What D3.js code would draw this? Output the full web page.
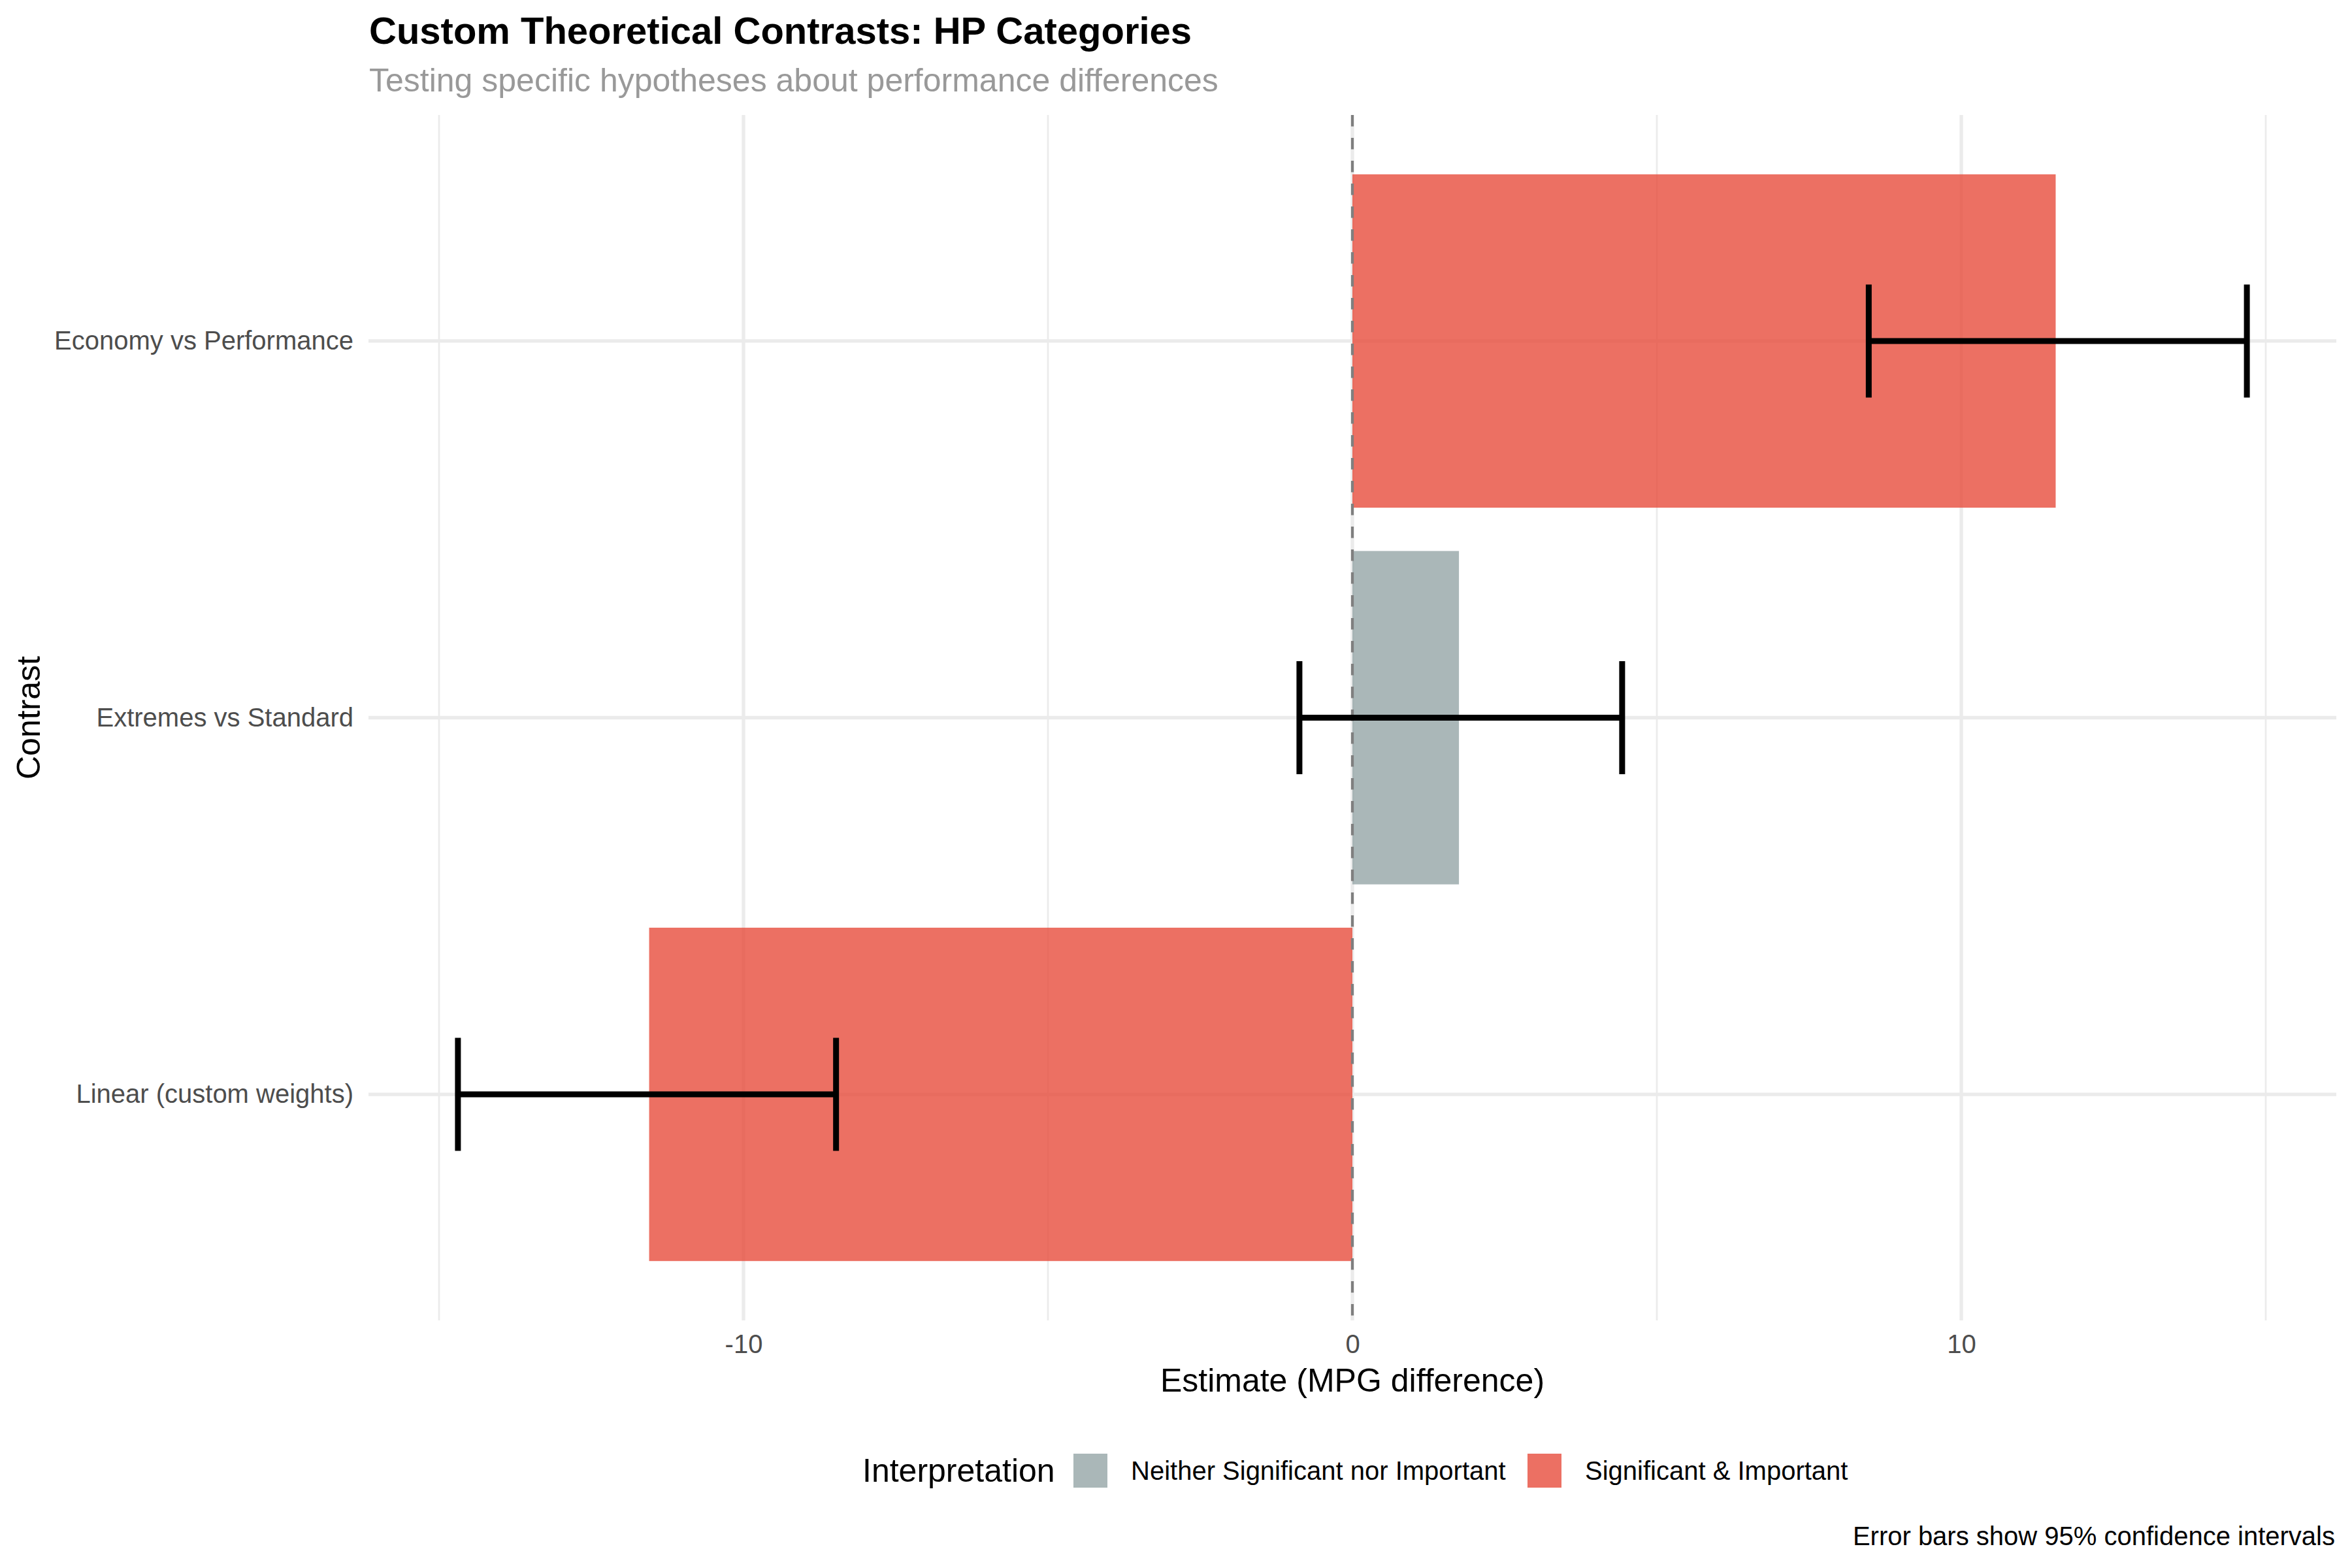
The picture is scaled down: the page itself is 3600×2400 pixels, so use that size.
<!DOCTYPE html>
<html>
<head>
<meta charset="utf-8">
<script src="https://cdn.jsdelivr.net/npm/d3@7"></script>
<style>
  body { margin: 0; background: #fff; }
  text { font-family: "Liberation Sans", Arial, Helvetica, sans-serif; }
</style>
</head>
<body>
<svg id="chart" width="3600" height="2400"></svg>
<script>
// data
var contrasts = ["Economy vs Performance", "Extremes vs Standard", "Linear (custom weights)"]
var estimates = [11.55, 1.75, -11.55]
var lowerCI = [8.48, -0.87, -14.69]
var upperCI = [14.69, 4.43, -8.48]
var interpretation = ["Significant & Important", "Neither Significant nor Important", "Significant & Important"]
var legendLabels = ["Neither Significant nor Important", "Significant & Important"]
var legendColors = ["#95A5A6", "#E74C3C"]
var majorTicks = [-10, 0, 10]
var minorTicks = [-15, -5, 5, 15]

var svg = d3.select("#chart")
svg.append("rect").attr("width", 3600).attr("height", 2400).attr("fill", "#fff")

// panel
var pLeft = 564, pRight = 3576, pTop = 176, pBottom = 2021

var lo = d3.min(lowerCI.concat([0])), hi = d3.max(upperCI.concat([0]))
var pad = (hi - lo) * 0.05
var x = d3.scaleLinear().domain([lo - pad, hi + pad]).range([pLeft, pRight])
var y = d3.scalePoint().domain(contrasts).range([pTop, pBottom]).padding(0.6)
var step = y.step()
var color = d3.scaleOrdinal().domain(legendLabels).range(legendColors)

// grid
svg.selectAll(".minor").data(minorTicks).enter().append("line")
  .attr("x1", d => x(d)).attr("x2", d => x(d)).attr("y1", pTop).attr("y2", pBottom)
  .attr("stroke", "#EBEBEB").attr("stroke-width", 2.7)
svg.selectAll(".majorx").data(majorTicks).enter().append("line")
  .attr("x1", d => x(d)).attr("x2", d => x(d)).attr("y1", pTop).attr("y2", pBottom)
  .attr("stroke", "#EBEBEB").attr("stroke-width", 5.3)
svg.selectAll(".majory").data(contrasts).enter().append("line")
  .attr("x1", pLeft).attr("x2", pRight).attr("y1", d => y(d)).attr("y2", d => y(d))
  .attr("stroke", "#EBEBEB").attr("stroke-width", 5.3)

// bars
var barH = step * 0.885
svg.selectAll(".bar").data(contrasts).enter().append("rect")
  .attr("x", (d, i) => x(Math.min(0, estimates[i])))
  .attr("width", (d, i) => Math.abs(x(estimates[i]) - x(0)))
  .attr("y", d => y(d) - barH / 2)
  .attr("height", barH)
  .attr("fill", (d, i) => color(interpretation[i]))
  .attr("fill-opacity", 0.8)

// zero reference line
svg.append("line")
  .attr("x1", x(0)).attr("x2", x(0)).attr("y1", pTop).attr("y2", pBottom)
  .attr("stroke", "#7F7F7F").attr("stroke-width", 4.2).attr("stroke-dasharray", "17.5,17.5")

// error bars
var capH = step * 0.3
var eb = svg.selectAll(".eb").data(contrasts).enter().append("g")
eb.append("line")
  .attr("x1", (d, i) => x(lowerCI[i])).attr("x2", (d, i) => x(upperCI[i]))
  .attr("y1", d => y(d)).attr("y2", d => y(d))
  .attr("stroke", "#000").attr("stroke-width", 9)
eb.append("line")
  .attr("x1", (d, i) => x(lowerCI[i])).attr("x2", (d, i) => x(lowerCI[i]))
  .attr("y1", d => y(d) - capH / 2).attr("y2", d => y(d) + capH / 2)
  .attr("stroke", "#000").attr("stroke-width", 9)
eb.append("line")
  .attr("x1", (d, i) => x(upperCI[i])).attr("x2", (d, i) => x(upperCI[i]))
  .attr("y1", d => y(d) - capH / 2).attr("y2", d => y(d) + capH / 2)
  .attr("stroke", "#000").attr("stroke-width", 9)

// axes
var xAxis = svg.append("g").attr("transform", "translate(0," + pBottom + ")")
  .call(d3.axisBottom(x).tickValues(majorTicks).tickSize(0).tickPadding(22).tickFormat(d => String(d)))
xAxis.select(".domain").remove()
xAxis.selectAll("text").style("font-size", "40px").attr("fill", "#4D4D4D")
  .style("font-family", "'Liberation Sans', Arial, sans-serif")

var yAxis = svg.append("g").attr("transform", "translate(" + pLeft + ",0)")
  .call(d3.axisLeft(y).tickSize(0).tickPadding(23))
yAxis.select(".domain").remove()
yAxis.selectAll("text").style("font-size", "40px").attr("fill", "#4D4D4D")
  .style("font-family", "'Liberation Sans', Arial, sans-serif")

// titles
svg.append("text").attr("x", 565).attr("y", 67).text("Custom Theoretical Contrasts: HP Categories")
  .style("font-size", "58px").style("font-weight", "bold").attr("fill", "#000")
svg.append("text").attr("x", 565).attr("y", 140).text("Testing specific hypotheses about performance differences")
  .style("font-size", "50px").attr("fill", "#999999")
svg.append("text").attr("x", (pLeft + pRight) / 2).attr("y", 2130).attr("text-anchor", "middle")
  .text("Estimate (MPG difference)").style("font-size", "50px").attr("fill", "#000")
svg.append("text").attr("transform", "translate(61," + (pTop + pBottom) / 2 + ") rotate(-90)")
  .attr("text-anchor", "middle").text("Contrast").style("font-size", "50px").attr("fill", "#000")

// legend
svg.append("text").attr("x", 1320).attr("y", 2268).text("Interpretation").style("font-size", "50px").attr("fill", "#000")
var keyX = [1643, 2338]
legendLabels.forEach(function (lab, i) {
  svg.append("rect").attr("x", keyX[i]).attr("y", 2225).attr("width", 52).attr("height", 52)
    .attr("fill", color(lab)).attr("fill-opacity", 0.8)
  svg.append("text").attr("x", keyX[i] + 88).attr("y", 2265).text(lab)
    .style("font-size", "40px").attr("fill", "#000")
})

// caption
svg.append("text").attr("x", 3574).attr("y", 2365).attr("text-anchor", "end")
  .text("Error bars show 95% confidence intervals").style("font-size", "40px").attr("fill", "#000")
</script>
</body>
</html>
